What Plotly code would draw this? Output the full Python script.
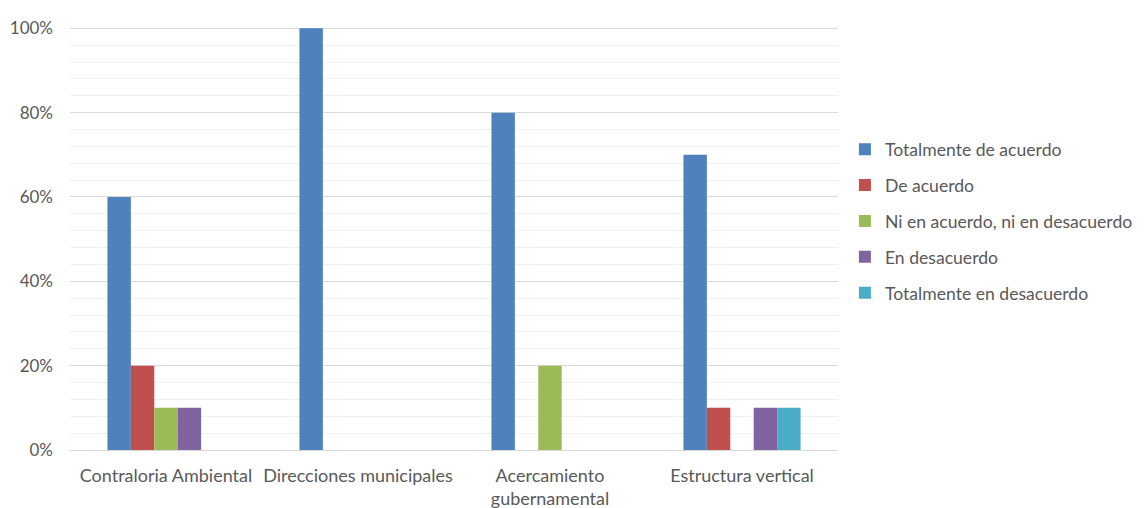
import plotly.graph_objects as go

categories = ["Contraloria Ambiental", "Direcciones municipales", "Acercamiento<br>gubernamental", "Estructura vertical"]
series_names = ["Totalmente de acuerdo", "De acuerdo", "Ni en acuerdo, ni en desacuerdo", "En desacuerdo", "Totalmente en desacuerdo"]
totalmente_de_acuerdo = [0.60, 1.00, 0.80, 0.70]
de_acuerdo = [0.20, 0.0, 0.0, 0.10]
ni_en_acuerdo = [0.10, 0.0, 0.20, 0.0]
en_desacuerdo = [0.10, 0.0, 0.0, 0.10]
totalmente_en_desacuerdo = [0.0, 0.0, 0.0, 0.10]
y_ticks = [0, 0.2, 0.4, 0.6, 0.8, 1.0]

series_values = [totalmente_de_acuerdo, de_acuerdo, ni_en_acuerdo, en_desacuerdo, totalmente_en_desacuerdo]
colors = ["#4F81BD", "#C0504D", "#9BBB59", "#8064A2", "#4BACC6"]

FONT = "Lato"
fig = go.Figure()
for i, (name, vals) in enumerate(zip(series_names, series_values)):
    fig.add_trace(go.Bar(
        x=categories, y=vals, name=name,
        marker=dict(color=colors[i], line=dict(width=0)),
        legendgroup=f"g{i}",
    ))

fig.update_layout(
    width=1147, height=508,
    margin=dict(l=62, r=317, t=3, b=66, autoexpand=False),
    paper_bgcolor="white", plot_bgcolor="white",
    barmode="group", bargap=0.39, bargroupgap=0,
    font=dict(family=FONT, size=17, color="#595959"),
    showlegend=True,
    legend=dict(
        x=1.009, xanchor="left", y=0.521, yanchor="middle",
        traceorder="grouped", tracegroupgap=10,
        font=dict(family=FONT, size=17.6, color="#595959"),
        bgcolor="rgba(0,0,0,0)",
    ),
)
fig.update_xaxes(
    showgrid=False, showline=True, linecolor="#d9d9d9", linewidth=1,
    ticks="", ticklabelstandoff=9,
    tickfont=dict(family=FONT, size=18, color="#595959"),
)
fig.update_yaxes(
    range=[0, 1.041], tickvals=y_ticks, tickformat=".0%",
    showgrid=True, gridcolor="#d9d9d9", gridwidth=1,
    minor=dict(dtick=0.04, tick0=0, showgrid=True, gridcolor="#f0f0f0", gridwidth=1),
    zeroline=False, showline=False,
    ticklabelstandoff=16,
    tickfont=dict(family=FONT, size=17, color="#595959"),
)
fig.write_html("out.html")
